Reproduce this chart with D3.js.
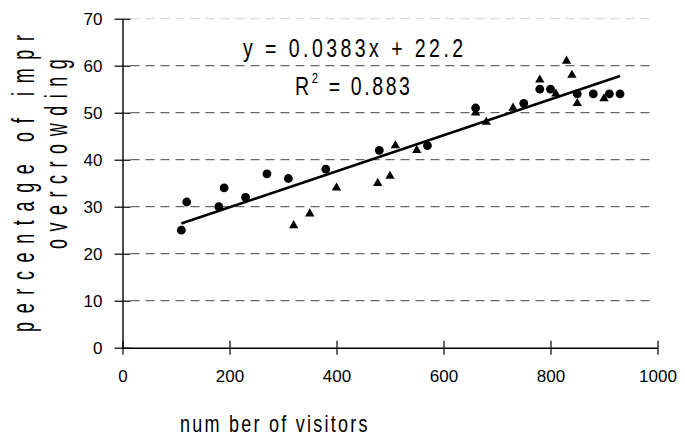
<!DOCTYPE html>
<html>
<head>
<meta charset="utf-8">
<script src="https://cdn.jsdelivr.net/npm/d3@7"></script>
<style>
  body { margin: 0; background: #fff; }
  svg text { font-family: "Liberation Sans", Arial, sans-serif; fill: #000; }
</style>
</head>
<body>
<svg id="chart"></svg>
<script>
// series 1 (circles)
const circleX = [110, 120, 180, 190, 230, 270, 310, 380, 480, 570, 660, 750, 780, 800, 850, 880, 910, 930];
const circleY = [25, 31, 30, 34, 32, 37, 36, 38, 42, 43, 51, 52, 55, 55, 54, 54, 54, 54];
// series 2 (triangles)
const triX = [320, 350, 400, 477, 500, 510, 550, 660, 680, 730, 780, 810, 830, 840, 850, 900];
const triY = [26, 28.5, 34, 35, 36.5, 43, 42, 50, 48, 51, 57, 54, 61, 58, 52, 53];
// linear fit shown on the chart
const slope = 0.0383;
const intercept = 22.2;
const fitRange = [110, 930];
const xTicks = [0, 200, 400, 600, 800, 1000];
const yTicks = [0, 10, 20, 30, 40, 50, 60, 70];

const width = 685;
const height = 441;
const svg = d3.select('#chart').attr('width', width).attr('height', height);

const x = d3.scaleLinear().domain([0, 1000]).range([122.5, 657.5]);
const y = d3.scaleLinear().domain([0, 70]).range([347.7, 18.7]);

// grid lines
svg.append('g')
  .selectAll('line')
  .data(yTicks.filter(d => d > 0))
  .enter().append('line')
    .attr('x1', x(0) + 8)
    .attr('x2', 653)
    .attr('y1', d => y(d))
    .attr('y2', d => y(d))
    .attr('stroke', d => d === 70 ? '#d0d0d0' : '#444')
    .attr('stroke-width', 1)
    .attr('stroke-dasharray', '9,6');

// x axis
const xAxis = svg.append('g')
  .attr('transform', `translate(0, ${y(0)})`)
  .call(d3.axisBottom(x).tickValues(xTicks).tickSize(0).tickPadding(22).tickFormat(d3.format('d')));
xAxis.select('.domain').attr('stroke', '#000').attr('stroke-width', 1.4);
xAxis.selectAll('.tick line').attr('y1', -7).attr('y2', 7).attr('stroke', '#000').attr('stroke-width', 1.2);
xAxis.selectAll('.tick text').attr('font-size', 17).attr('font-family', '"Liberation Sans", Arial, sans-serif');

// y axis
const yAxis = svg.append('g')
  .attr('transform', `translate(${x(0)}, 0)`)
  .call(d3.axisLeft(y).tickValues(yTicks).tickSize(0).tickPadding(20));
yAxis.select('.domain').attr('stroke', '#000').attr('stroke-width', 1.4);
yAxis.selectAll('.tick line').attr('x1', -8).attr('x2', 8).attr('stroke', '#000').attr('stroke-width', 1.2);
yAxis.selectAll('.tick text').attr('font-size', 17).attr('font-family', '"Liberation Sans", Arial, sans-serif');

// markers
svg.append('g')
  .selectAll('circle')
  .data(circleX.map((d, i) => [d, circleY[i]]))
  .enter().append('circle')
    .attr('cx', d => x(d[0]))
    .attr('cy', d => y(d[1]))
    .attr('r', 4.4)
    .attr('fill', '#000');

const tri = d3.symbol().type(d3.symbolTriangle).size(38);
svg.append('g')
  .selectAll('path')
  .data(triX.map((d, i) => [d, triY[i]]))
  .enter().append('path')
    .attr('d', tri)
    .attr('transform', d => `translate(${x(d[0])}, ${y(d[1])})`)
    .attr('fill', '#000');

// trendline
svg.append('line')
  .attr('x1', x(fitRange[0]))
  .attr('y1', y(slope * fitRange[0] + intercept))
  .attr('x2', x(fitRange[1]))
  .attr('y2', y(slope * fitRange[1] + intercept))
  .attr('stroke', '#000')
  .attr('stroke-width', 2.6);

// equation
const eq = svg.append('g').attr('transform', 'translate(243, 57) scale(0.75, 1)');
eq.append('text')
  .attr('font-size', 26)
  .attr('letter-spacing', 4.6)
  .attr('fill', '#222')
  .text(`y = ${slope}x + ${intercept}`);

const r2 = svg.append('g').attr('transform', 'translate(295, 95) scale(0.75, 1)');
const r2Text = r2.append('text')
  .attr('font-size', 26)
  .attr('letter-spacing', 3.5)
  .attr('fill', '#222');
r2Text.append('tspan').text('R');
r2Text.append('tspan').attr('font-size', 15).attr('dy', -12).text('2');
r2Text.append('tspan').attr('dy', 12).text(' = 0.883');

// axis titles
svg.append('g')
  .attr('transform', 'translate(180, 432) scale(0.75, 1)')
  .append('text')
    .attr('font-size', 24)
    .attr('letter-spacing', 3)
    .attr('fill', '#111')
    .text('num ber of visitors');

// y title: first line is cut short in the original
svg.append('g')
  .attr('transform', 'translate(34, 332) rotate(-90) scale(0.56, 1)')
  .append('text')
    .attr('font-size', 32)
    .attr('letter-spacing', 15.5)
    .attr('fill', '#111')
    .text('percentage of impr');
svg.append('g')
  .attr('transform', 'translate(67, 249) rotate(-90) scale(0.56, 1)')
  .append('text')
    .attr('font-size', 32)
    .attr('letter-spacing', 13.5)
    .attr('fill', '#111')
    .text('overcrowding');
</script>
</body>
</html>
